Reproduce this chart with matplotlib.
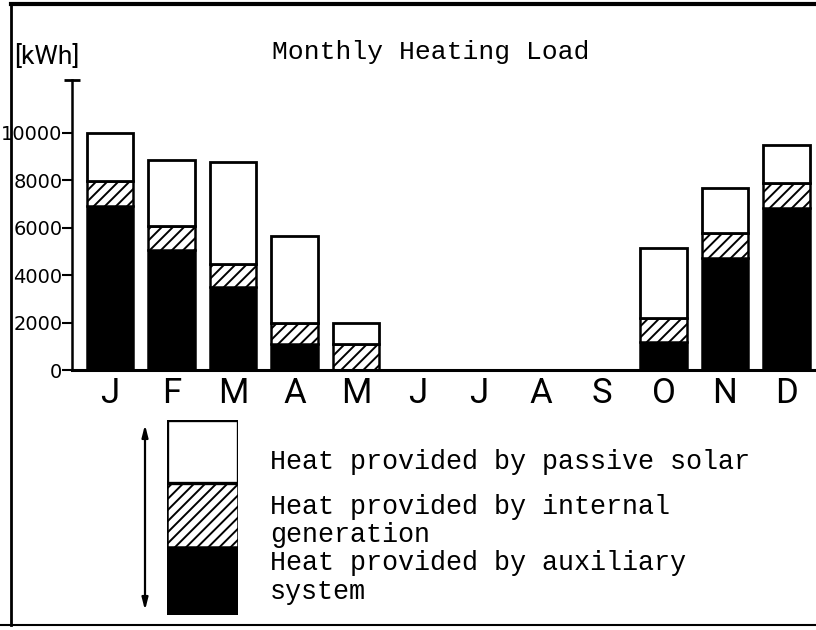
import numpy as np
import matplotlib
matplotlib.use("Agg")
import matplotlib.pyplot as plt
from matplotlib.lines import Line2D
from matplotlib.patches import Rectangle, FancyArrowPatch

# monthly heating load, kWh
months = ["J", "F", "M", "A", "M", "J", "J", "A", "S", "O", "N", "D"]
auxiliary = [6900, 5050, 3500, 1080, 0, 0, 0, 0, 0, 1180, 4730, 6840]
internal = [1060, 1000, 950, 900, 1080, 0, 0, 0, 0, 1020, 1030, 1050]
passive_solar = [2040, 2800, 4330, 3670, 900, 0, 0, 0, 0, 2930, 1920, 1580]
yticks = [0, 2000, 4000, 6000, 8000, 10000]

legend_lines = ["Heat provided by passive solar",
                "Heat provided by internal",
                "generation",
                "Heat provided by auxiliary",
                "system"]

plt.rcParams['hatch.linewidth'] = 1.4
mono = ['Liberation Mono', 'DejaVu Sans Mono']
thin = ['Roboto', 'DejaVu Sans']

W, H = 816, 630
fig = plt.figure(figsize=(W / 100, H / 100), dpi=100)

# main axes: x from px 72 to 816, y=0 at px 370, top of axis at px 80
ax = fig.add_axes([72 / W, 1 - 370 / H, 1 - 72 / W, (370 - 80) / H])
x = np.arange(len(months))
bw = 0.75
aux = np.array(auxiliary)
intl = np.array(internal)
sol = np.array(passive_solar)
ax.bar(x, aux, bw, color="black", edgecolor="black", linewidth=1.8)
ax.bar(x, intl, bw, bottom=aux, color="white", edgecolor="black",
       hatch="///", linewidth=1.8)
ax.bar(x, sol, bw, bottom=aux + intl, color="white", edgecolor="black",
       linewidth=2)

ax.set_xlim(-0.618, 11.48)
ax.set_ylim(0, 12220)
for s in ["top", "right"]:
    ax.spines[s].set_visible(False)
ax.spines["left"].set_linewidth(1.8)
ax.spines["bottom"].set_linewidth(2.2)

ax.set_yticks(yticks)
ax.set_yticklabels([str(v) for v in yticks], fontsize=14)
ax.tick_params(axis="y", direction="out", length=7, width=1.5, pad=0)
ax.set_xticks(x)
ax.set_xticklabels(months, fontsize=25, family=thin, fontweight="normal")
ax.tick_params(axis="x", length=0, pad=5)

# cap at the top of the y axis
ax.plot([0], [1], marker="_", ms=11, mew=2, color="black",
        transform=ax.transAxes, clip_on=False)

fig.text(14 / W, 1 - 57 / H, "[kWh]", fontsize=19, ha="left", va="center",
         family=thin, fontweight="normal")
fig.text(272 / W, 1 - 52 / H, "Monthly Heating Load", fontsize=19,
         family=mono, ha="left", va="center")

# legend swatch
lax = fig.add_axes([167 / W, 1 - 615 / H, (238 - 167) / W, (615 - 420) / H])
lax.set_xlim(0, 1)
lax.set_ylim(0, 3)
lax.axis("off")
lax.add_patch(Rectangle((0, 0), 1, 1.05, facecolor="black",
                        edgecolor="black", lw=2.2))
lax.add_patch(Rectangle((0, 1.05), 1, 0.98, facecolor="white",
                        edgecolor="black", hatch="///", lw=1.8))
lax.add_patch(Rectangle((0, 2.03), 1, 0.97, facecolor="white",
                        edgecolor="black", lw=2.4))

fig.add_artist(FancyArrowPatch(
    (145 / W, 1 - 613 / H), (145 / W, 1 - 422 / H),
    transform=fig.transFigure, arrowstyle="<|-|>,head_length=7,head_width=1.8",
    color="black", lw=1.6))

for txt, yp in zip(legend_lines, [462, 507, 535, 563, 592]):
    fig.text(270 / W, 1 - yp / H, txt, fontsize=19.3, family=mono,
             ha="left", va="center")

# scanned page frame
fig.add_artist(Line2D([11 / W, 1], [1 - 4 / H, 1 - 4 / H], color="black",
                      lw=3, transform=fig.transFigure))
fig.add_artist(Line2D([11 / W, 11 / W], [1 - 4 / H, 1 - 625 / H],
                      color="black", lw=2, transform=fig.transFigure))
fig.add_artist(Line2D([0, 1], [1 - 625 / H, 1 - 625 / H], color="black",
                      lw=1.5, transform=fig.transFigure))

fig.savefig("out.png", dpi=100)
